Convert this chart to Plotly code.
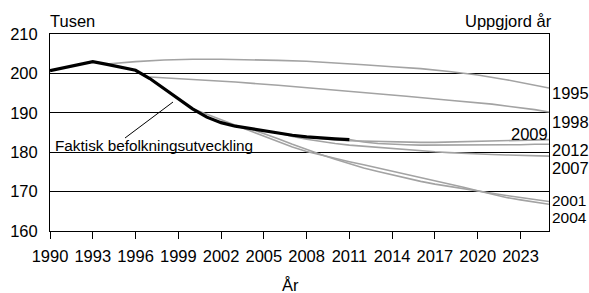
import plotly.graph_objects as go

# ---- data ----
years_actual = list(range(1990, 2012))
actual = [200.7, 201.5, 202.3, 203.0, 202.3, 201.6, 200.8, 198.7, 196.2, 193.6,
          191.0, 188.9, 187.5, 186.6, 186.0, 185.5, 184.9, 184.3, 183.9, 183.6,
          183.4, 183.2]

years_p1995 = [1994, 1996, 1998, 2000, 2002, 2004, 2006, 2008, 2010, 2012, 2014,
               2016, 2018, 2020, 2022, 2024, 2025]
p1995 = [202.4, 203.0, 203.4, 203.6, 203.6, 203.5, 203.3, 203.1, 202.7, 202.2,
         201.7, 201.2, 200.5, 199.6, 198.4, 197.0, 196.3]

years_p1998 = [1997, 2000, 2003, 2006, 2009, 2012, 2015, 2018, 2021, 2024, 2025]
p1998 = [199.1, 198.5, 197.8, 197.0, 196.1, 195.1, 194.2, 193.2, 192.2, 190.8, 190.2]

years_p2001 = list(range(2000, 2026))
p2001 = [191.0, 189.6, 188.2, 186.8, 185.4, 184.0, 182.6, 181.3, 180.2, 179.3,
         178.4, 177.6, 176.8, 176.0, 175.2, 174.4, 173.6, 172.8, 172.0, 171.1,
         170.2, 169.3, 168.5, 167.9, 167.3, 166.8]

years_p2004 = list(range(2004, 2026))
p2004 = [186.0, 184.8, 183.4, 182.0, 180.6, 179.4, 178.2, 177.1, 176.0, 175.1,
         174.2, 173.4, 172.6, 171.9, 171.3, 170.7, 170.2, 169.6, 169.0, 168.5,
         168.0, 167.5]

years_p2007 = list(range(2006, 2026))
p2007 = [184.9, 184.0, 183.3, 182.7, 182.2, 181.8, 181.5, 181.2, 180.9, 180.6,
         180.3, 180.1, 179.9, 179.7, 179.6, 179.4, 179.3, 179.2, 179.1, 179.0]

years_p2009 = list(range(2008, 2026))
p2009 = [183.9, 183.5, 183.1, 182.9, 182.8, 182.7, 182.6, 182.5, 182.5, 182.5,
         182.6, 182.6, 182.7, 182.8, 182.9, 183.0, 183.1, 183.2]

years_p2012 = list(range(2011, 2026))
p2012 = [183.2, 182.6, 182.2, 182.0, 181.9, 181.8, 181.8, 181.8, 181.8, 181.8,
         181.8, 181.9, 181.9, 182.0, 182.0]

x_ticks = list(range(1990, 2024, 3))
y_ticks = [160, 170, 180, 190, 200, 210]

FONT = "Liberation Sans, Arial, sans-serif"
FS = 16.5
GRAY = "#a3a3a3"

fig = go.Figure()
for xs, ys in [(years_p1995, p1995), (years_p1998, p1998), (years_p2001, p2001),
               (years_p2004, p2004), (years_p2007, p2007), (years_p2009, p2009),
               (years_p2012, p2012)]:
    fig.add_trace(go.Scatter(x=xs, y=ys, mode="lines",
                             line=dict(color=GRAY, width=1.6), showlegend=False,
                             hoverinfo="skip"))
fig.add_trace(go.Scatter(x=years_actual, y=actual, mode="lines",
                         line=dict(color="black", width=3.2), showlegend=False))

W, H = 589, 293
L, R, T, B = 50, 40, 34, 62
pw, ph = W - L - R, H - T - B


def px(xp):
    return (xp - L) / pw


def py(yp):
    return (H - B - yp) / ph


ann = []
def add(text, x, y, xanchor="left", yanchor="middle", size=FS):
    ann.append(dict(text=text, x=x, y=y, xref="paper", yref="paper",
                    xanchor=xanchor, yanchor=yanchor, showarrow=False,
                    borderpad=0,
                    font=dict(family=FONT, size=size, color="black")))

add("Tusen", px(49), py(21))
add("Uppgjord år", px(553), py(21), xanchor="right")
add("År", px(290), py(285), xanchor="center")
add("1995", px(551), py(93))
add("1998", px(551), py(121.5))
add("2012", px(551), py(150))
add("2007", px(551), py(167.5))
add("2001", px(551), py(200), size=15.5)
add("2004", px(551), py(217), size=15.5)
add("2009", px(549), py(134), xanchor="right")
add("Faktisk befolkningsutveckling", px(54), py(145.5), size=15.3)

fig.add_shape(type="line", xref="paper", yref="paper",
              x0=px(125), y0=py(138), x1=px(173), y1=py(102),
              line=dict(color="black", width=1))

fig.update_layout(
    width=W, height=H,
    margin=dict(l=L, r=R, t=T, b=B),
    paper_bgcolor="white", plot_bgcolor="white",
    font=dict(family=FONT, size=FS, color="black"),
    annotations=ann,
    xaxis=dict(range=[1990, 2025], tickvals=x_ticks, ticks="outside", ticklen=7,
               tickcolor="black", tickwidth=1, showgrid=False, zeroline=False,
               showline=True, linecolor="black", linewidth=1, mirror=True,
               automargin=False, ticklabelstandoff=3,
               tickfont=dict(family=FONT, size=FS)),
    yaxis=dict(range=[160, 210], tickvals=y_ticks, ticks="", showgrid=True,
               gridcolor="black", gridwidth=1, zeroline=False, showline=True,
               linecolor="black", linewidth=1, mirror=True, automargin=False,
               ticklabelstandoff=8, tickfont=dict(family=FONT, size=FS)),
)

fig.write_html("out.html", config={"displayModeBar": False},
               post_script="document.body.style.margin='0';"
                           "document.body.style.padding='0';")
